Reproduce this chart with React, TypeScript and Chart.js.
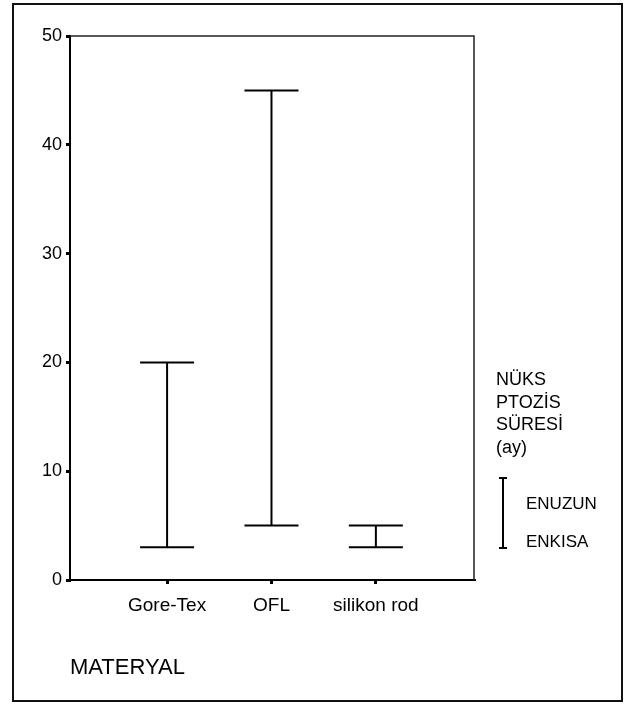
import React, { useEffect, useRef } from "react";
import { Chart, registerables } from "chart.js";

Chart.register(...registerables);

const categories = ["Gore-Tex", "OFL", "silikon rod"];
const enUzun = [20, 45, 5];
const enKisa = [3, 5, 3];
const yTicks = [0, 10, 20, 30, 40, 50];
const legendTitle = ["NÜKS", "PTOZİS", "SÜRESİ", "(ay)"];
const legendHigh = "ENUZUN";
const legendLow = "ENKISA";
const axisTitle = "MATERYAL";

const FONT = "Arial, 'Liberation Sans', Helvetica, sans-serif";

const boxPlugin = {
  id: "plotBox",
  afterDraw(chart: any) {
    const { ctx, chartArea } = chart;
    ctx.save();
    ctx.strokeStyle = "#222";
    ctx.lineWidth = 1.5;
    ctx.beginPath();
    ctx.moveTo(chartArea.left, chartArea.top);
    ctx.lineTo(chartArea.right, chartArea.top);
    ctx.lineTo(chartArea.right, chartArea.bottom);
    ctx.stroke();
    ctx.restore();
  },
};

export default function App() {
  const ref = useRef<HTMLCanvasElement | null>(null);

  useEffect(() => {
    document.body.style.margin = "0";
    if (!ref.current) return;
    const datasets = categories.map((c, i) => ({
      type: "line" as const,
      label: c,
      data: [
        { x: i + 1, y: enKisa[i] },
        { x: i + 1, y: enUzun[i] },
      ],
      borderColor: "#000",
      borderWidth: 2,
      showLine: true,
      fill: false,
      pointStyle: "line",
      pointRadius: 27,
      pointHoverRadius: 27,
      pointBorderColor: "#000",
      pointBorderWidth: 2,
    }));
    const chart = new Chart(ref.current, {
      type: "line",
      data: { datasets: datasets as any },
      options: {
        animation: false,
        responsive: false,
        devicePixelRatio: 1,
        layout: { padding: { left: 20, top: 36, right: 160, bottom: 20 } },
        plugins: { legend: { display: false }, tooltip: { enabled: false } },
        scales: {
          x: {
            type: "linear",
            min: 0.07,
            max: 3.94,
            afterBuildTicks: (s: any) => {
              s.ticks = categories.map((_, i) => ({ value: i + 1 }));
            },
            afterFit: (s: any) => {
              s.height = 104;
            },
            ticks: {
              callback: (_v: any, idx: number) => categories[idx] ?? "",
              font: { family: FONT, size: 19 },
              color: "#000",
              padding: 10,
              maxRotation: 0,
              autoSkip: false,
            },
            grid: {
              display: true,
              drawOnChartArea: false,
              drawTicks: true,
              tickLength: 4,
              color: "#000",
              lineWidth: 3,
            },
            border: { display: true, color: "#000", width: 2 },
          },
          y: {
            min: 0,
            max: 50,
            afterBuildTicks: (s: any) => {
              s.ticks = yTicks.map((v) => ({ value: v }));
            },
            afterFit: (s: any) => {
              s.width = 50;
            },
            ticks: {
              font: { family: FONT, size: 18 },
              color: "#000",
              padding: 4,
            },
            grid: {
              display: true,
              drawOnChartArea: false,
              drawTicks: true,
              tickLength: 4,
              color: "#000",
              lineWidth: 3,
            },
            border: { display: true, color: "#000", width: 2 },
          },
        },
      } as any,
      plugins: [boxPlugin],
    });
    return () => chart.destroy();
  }, []);

  const txt: React.CSSProperties = {
    position: "absolute",
    fontFamily: FONT,
    color: "#000",
    whiteSpace: "nowrap",
  };

  return (
    <div style={{ position: "relative", width: 634, height: 704, background: "#fff", overflow: "hidden" }}>
      <canvas ref={ref} width={634} height={704} style={{ position: "absolute", left: 0, top: 0 }} />
      <div
        style={{
          position: "absolute",
          left: 12,
          top: 3,
          width: 611,
          height: 699,
          border: "2px solid #111",
          boxSizing: "border-box",
          pointerEvents: "none",
        }}
      />
      <div style={{ ...txt, left: 70, top: 655, fontSize: 22, lineHeight: "24px" }}>{axisTitle}</div>
      <div style={{ ...txt, left: 496, top: 368, fontSize: 18, lineHeight: "22.5px" }}>
        {legendTitle.map((t) => (
          <div key={t}>{t}</div>
        ))}
      </div>
      <div style={{ position: "absolute", left: 502, top: 477, width: 1.5, height: 71, background: "#000" }} />
      <div style={{ position: "absolute", left: 499, top: 477, width: 8, height: 1.5, background: "#000" }} />
      <div style={{ position: "absolute", left: 499, top: 547, width: 8, height: 1.5, background: "#000" }} />
      <div style={{ ...txt, left: 526, top: 494, fontSize: 17, lineHeight: "20px" }}>{legendHigh}</div>
      <div style={{ ...txt, left: 526, top: 532, fontSize: 17, lineHeight: "20px" }}>{legendLow}</div>
    </div>
  );
}
